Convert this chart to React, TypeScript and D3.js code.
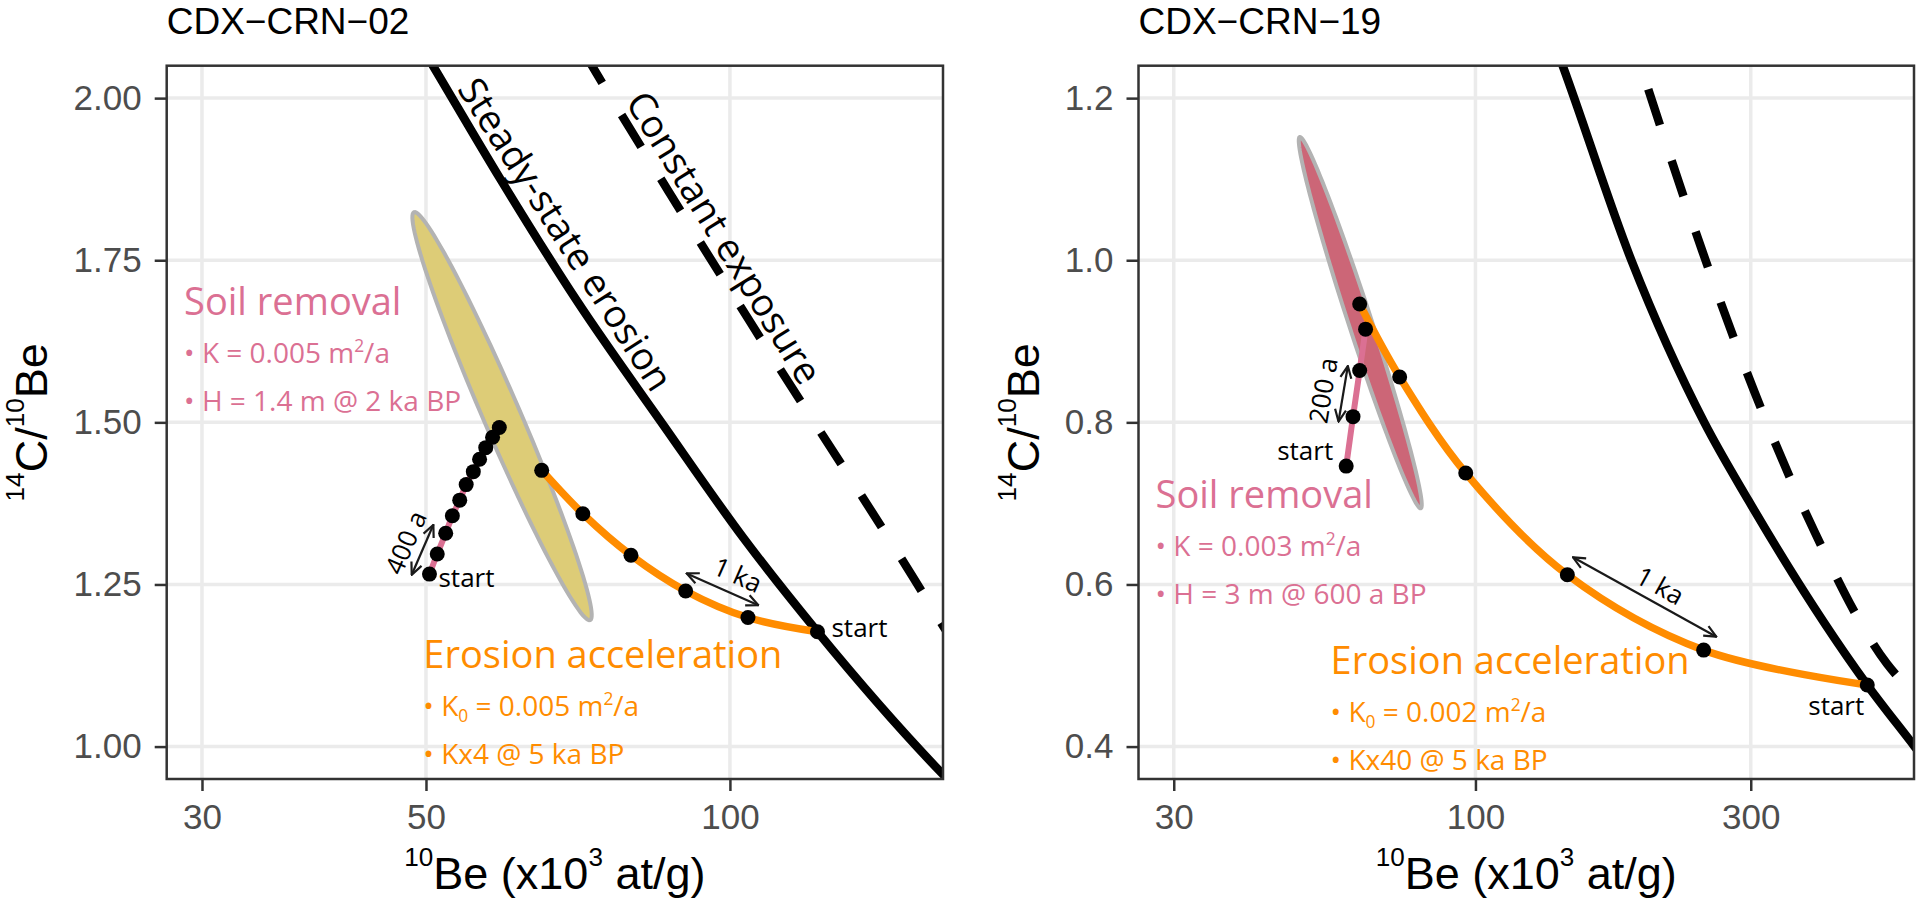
import { useEffect, useRef } from 'react';
import * as d3 from 'd3';

type Pt = [number, number]; // [10Be (x10^3 at/g), 14C/10Be]

// ---------- CDX-CRN-02 ----------
const steady02: Pt[] = [[49.3, 2.084], [50.8, 2.05], [59.2, 1.876], [70.5, 1.688], [85.9, 1.496], [103.1, 1.322], [122.1, 1.177], [162.1, 0.959], [169.0, 0.93]];
const exposure02: Pt[] = [[71.1, 2.08], [73.0, 2.05], [87.2, 1.853], [104.7, 1.655], [152.0, 1.26], [162.6, 1.186], [169.1, 1.144]];
const soil02: Pt[] = [[50.4, 1.266], [51.3, 1.297], [52.3, 1.329], [53.1, 1.356], [54.0, 1.38], [54.8, 1.404], [55.7, 1.424], [56.5, 1.443], [57.3, 1.461], [58.2, 1.477], [59.1, 1.492]];
const erosion02: Pt[] = [[122.1, 1.177], [104.2, 1.199], [90.4, 1.24], [79.8, 1.295], [71.5, 1.359], [65.1, 1.426]];
const sample02 = { top: [48.65, 1.824] as Pt, bottom: [72.7, 1.195] as Pt, widthRatio: 0.083 };
const soilArrow02: Pt[] = [[48.4, 1.265], [50.85, 1.342]];
const erosionArrow02: Pt[] = [[90.6, 1.267], [106.7, 1.218]];

// ---------- CDX-CRN-19 ----------
const steady19: Pt[] = [[137.8, 1.263], [141.8, 1.239], [186.3, 1.0], [249.6, 0.799], [297.1, 0.704], [477.6, 0.476], [576.9, 0.4], [616.6, 0.373]];
const exposure19: Pt[] = [[199.3, 1.211], [247.1, 1.012], [304.7, 0.837], [387.0, 0.665], [516.9, 0.502], [641.8, 0.441]];
const soil19: Pt[] = [[59.7, 0.746], [61.35, 0.807], [63.0, 0.864], [64.5, 0.915]];
const erosion19: Pt[] = [[477.6, 0.476], [248.6, 0.519], [144.3, 0.612], [96.2, 0.7375], [73.9, 0.856], [63.0, 0.946]];
const sample19 = { top: [49.6, 1.152] as Pt, bottom: [80.4, 0.694] as Pt, widthRatio: 0.059 };
const soilArrow19: Pt[] = [[57.9, 0.801], [60.1, 0.8695]];
const erosionArrow19: Pt[] = [[147.6, 0.6335], [261.5, 0.5356]];

// ---------- axes ----------
const beTicks02 = [30, 50, 100];
const ratioTicks02 = [1.0, 1.25, 1.5, 1.75, 2.0];
const beTicks19 = [30, 100, 300];
const ratioTicks19 = [0.4, 0.6, 0.8, 1.0, 1.2];

type Run = { t: string; shift?: 'sup' | 'sub' };
const soilText02: Run[][] = [[{ t: '• K = 0.005 m' }, { t: '2', shift: 'sup' }, { t: '/a' }], [{ t: '• H = 1.4 m @ 2 ka BP' }]];
const erosionText02: Run[][] = [[{ t: '• K' }, { t: '0', shift: 'sub' }, { t: ' = 0.005 m' }, { t: '2', shift: 'sup' }, { t: '/a' }], [{ t: '• Kx4 @ 5 ka BP' }]];
const soilText19: Run[][] = [[{ t: '• K = 0.003 m' }, { t: '2', shift: 'sup' }, { t: '/a' }], [{ t: '• H = 3 m @ 600 a BP' }]];
const erosionText19: Run[][] = [[{ t: '• K' }, { t: '0', shift: 'sub' }, { t: ' = 0.002 m' }, { t: '2', shift: 'sup' }, { t: '/a' }], [{ t: '• Kx40 @ 5 ka BP' }]];

const TOP = 65.7;
const BOTTOM = 779;
const SANS = '"Liberation Sans", Arial, Helvetica, sans-serif';
const HUMAN = '"Open Sans", "Noto Sans", sans-serif';
const PINK = '#DB7093';
const ORANGE = '#FF8C00';

interface PanelSpec {
  key: string;
  title: string;
  left: number;
  right: number;
  beLimits: [number, number];
  ratioLimits: [number, number];
  beTicks: number[];
  ratioTicks: number[];
  ratioFormat: string;
  yTitleX: number;
  steady: Pt[];
  exposure: Pt[];
  exposureOffset: number;
  soil: Pt[];
  erosion: Pt[];
  sample: { top: Pt; bottom: Pt; widthRatio: number };
  sampleFill: string;
  soilHead: Pt;
  soilLines: Run[][];
  erosionHead: Pt;
  erosionLines: Run[][];
  soilStart: { dx: number; dy: number; anchor: string };
  erosionStart: { dx: number; dy: number; anchor: string };
  arrows: { pts: Pt[]; text: string; lift: number; slide: number }[];
  lineLabels: { text: string; curve: Pt[]; at: Pt; from: number; to: number; lift: number }[];
}

const panels: PanelSpec[] = [
  {
    key: 'p02', title: 'CDX\u2212CRN\u221202', left: 166.7, right: 943,
    beLimits: [30, 150], ratioLimits: [1, 2], beTicks: beTicks02, ratioTicks: ratioTicks02, ratioFormat: '.2f', yTitleX: 47,
    steady: steady02, exposure: exposure02, exposureOffset: 70, soil: soil02, erosion: erosion02,
    sample: sample02, sampleFill: '#DDCC77',
    soilHead: [28.8, 1.6655], soilLines: soilText02, erosionHead: [49.7, 1.1212], erosionLines: erosionText02,
    soilStart: { dx: 9, dy: 12.7, anchor: 'start' }, erosionStart: { dx: 14, dy: 5, anchor: 'start' },
    arrows: [
      { pts: soilArrow02, text: '400 a', lift: -9, slide: 0 },
      { pts: erosionArrow02, text: '1 ka', lift: -10, slide: 8 },
    ],
    lineLabels: [
      { text: 'Steady-state erosion', curve: steady02, at: [65.35, 1.768], from: 1, to: 4, lift: -13 },
      { text: 'Constant exposure', curve: exposure02, at: [94.3, 1.7658], from: 1, to: 3, lift: -10 },
    ],
  },
  {
    key: 'p19', title: 'CDX\u2212CRN\u221219', left: 1138.5, right: 1914,
    beLimits: [30, 500], ratioLimits: [0.4, 1.2], beTicks: beTicks19, ratioTicks: ratioTicks19, ratioFormat: '.1f', yTitleX: 1039,
    steady: steady19, exposure: exposure19, exposureOffset: 0, soil: soil19, erosion: erosion19,
    sample: sample19, sampleFill: '#CC6677',
    soilHead: [27.9, 0.694], soilLines: soilText19, erosionHead: [56.1, 0.4895], erosionLines: erosionText19,
    soilStart: { dx: -13, dy: -6, anchor: 'end' }, erosionStart: { dx: -3, dy: 30, anchor: 'end' },
    arrows: [
      { pts: soilArrow19, text: '200 a', lift: -11, slide: 0 },
      { pts: erosionArrow19, text: '1 ka', lift: -8, slide: 8 },
    ],
    lineLabels: [],
  },
];

function addRuns(text: d3.Selection<SVGTextElement, unknown, null, undefined>, runs: Run[], fs: number, raise: number, scale: number) {
  let offset = 0;
  runs.forEach(r => {
    const target = r.shift === 'sup' ? -raise : r.shift === 'sub' ? raise * 0.55 : 0;
    text.append('tspan')
      .attr('dy', target - offset)
      .attr('font-size', r.shift ? fs * scale : fs)
      .text(r.t);
    offset = target;
  });
}

function drawPanel(svg: d3.Selection<SVGSVGElement, unknown, null, undefined>, defs: d3.Selection<SVGDefsElement, unknown, null, undefined>, p: PanelSpec) {
  const lo = Math.log10(p.beLimits[0]);
  const hi = Math.log10(p.beLimits[1]);
  const padX = 0.05 * (hi - lo);
  const x = d3.scaleLog().domain([10 ** (lo - padX), 10 ** (hi + padX)]).range([p.left, p.right]);
  const padY = 0.05 * (p.ratioLimits[1] - p.ratioLimits[0]);
  const y = d3.scaleLinear().domain([p.ratioLimits[0] - padY, p.ratioLimits[1] + padY]).range([BOTTOM, TOP]);

  defs.append('clipPath').attr('id', `clip-${p.key}`)
    .append('rect').attr('x', p.left).attr('y', TOP).attr('width', p.right - p.left).attr('height', BOTTOM - TOP);

  const g = svg.append('g');

  // grid
  g.append('g').selectAll('line').data(p.beTicks).join('line')
    .attr('x1', d => x(d)).attr('x2', d => x(d)).attr('y1', TOP).attr('y2', BOTTOM)
    .attr('stroke', '#EBEBEB').attr('stroke-width', 3.5);
  g.append('g').selectAll('line').data(p.ratioTicks).join('line')
    .attr('x1', p.left).attr('x2', p.right).attr('y1', d => y(d)).attr('y2', d => y(d))
    .attr('stroke', '#EBEBEB').attr('stroke-width', 3.5);

  // axes
  const xAxis = g.append('g').attr('transform', `translate(0,${BOTTOM})`)
    .call(d3.axisBottom(x).tickValues(p.beTicks).tickFormat(d3.format('d') as any).tickSize(12).tickPadding(13).tickSizeOuter(0));
  const yAxis = g.append('g').attr('transform', `translate(${p.left},0)`)
    .call(d3.axisLeft(y).tickValues(p.ratioTicks).tickFormat(d3.format(p.ratioFormat) as any).tickSize(12).tickPadding(13).tickSizeOuter(0));
  [xAxis, yAxis].forEach(a => {
    a.select('.domain').remove();
    a.selectAll('line').attr('stroke', '#333333').attr('stroke-width', 2.5);
    a.selectAll('text').attr('fill', '#4D4D4D').attr('font-size', 35).attr('font-family', SANS);
  });

  const smooth = d3.line<Pt>().x(d => x(d[0])).y(d => y(d[1])).curve(d3.curveMonotoneX);
  const path = d3.line<Pt>().x(d => x(d[0])).y(d => y(d[1])).curve(d3.curveCatmullRom.alpha(0.5));
  const c = g.append('g').attr('clip-path', `url(#clip-${p.key})`);

  // sample ellipse
  const s = p.sample;
  const tx = x(s.top[0]), ty = y(s.top[1]);
  const bx = x(s.bottom[0]), by = y(s.bottom[1]);
  const cx = (tx + bx) / 2, cy = (ty + by) / 2;
  const ax = (tx - bx) / 2, ay = (ty - by) / 2;
  const len = Math.hypot(ax, ay);
  const nx = (-ay / len) * s.widthRatio * len;
  const ny = (ax / len) * s.widthRatio * len;
  const outline: [number, number][] = d3.range(0, 360, 3).map(deg => {
    const t = (deg * Math.PI) / 180;
    return [cx + ax * Math.cos(t) + nx * Math.sin(t), cy + ay * Math.cos(t) + ny * Math.sin(t)];
  });
  c.append('path').attr('d', d3.line()(outline) + 'Z')
    .attr('fill', p.sampleFill).attr('stroke', '#B3B3B3').attr('stroke-width', 4);

  c.append('path').attr('d', smooth(p.steady)).attr('fill', 'none').attr('stroke', '#000').attr('stroke-width', 8.5);
  c.append('path').attr('d', smooth(p.exposure)).attr('fill', 'none').attr('stroke', '#000').attr('stroke-width', 8.5)
    .attr('stroke-dasharray', '37.5 37.5').attr('stroke-dashoffset', p.exposureOffset);
  c.append('path').attr('d', path(p.soil)).attr('fill', 'none').attr('stroke', PINK).attr('stroke-width', 6);
  c.append('path').attr('d', path(p.erosion)).attr('fill', 'none').attr('stroke', ORANGE).attr('stroke-width', 7.5);

  c.append('g').selectAll('circle').data([...p.soil, ...p.erosion]).join('circle')
    .attr('cx', d => x(d[0])).attr('cy', d => y(d[1])).attr('r', 7.5).attr('fill', '#000');

  // border
  g.append('rect').attr('x', p.left).attr('y', TOP).attr('width', p.right - p.left).attr('height', BOTTOM - TOP)
    .attr('fill', 'none').attr('stroke', '#333333').attr('stroke-width', 2.5);

  // arrows + labels
  p.arrows.forEach(a => {
    const x1 = x(a.pts[0][0]), y1 = y(a.pts[0][1]);
    const x2 = x(a.pts[1][0]), y2 = y(a.pts[1][1]);
    g.append('line').attr('x1', x1).attr('y1', y1).attr('x2', x2).attr('y2', y2)
      .attr('stroke', '#1A1A1A').attr('stroke-width', 2.2)
      .attr('marker-start', 'url(#arrowhead)').attr('marker-end', 'url(#arrowhead)');
    const ang = (Math.atan2(y2 - y1, x2 - x1) * 180) / Math.PI;
    g.append('text')
      .attr('transform', `translate(${(x1 + x2) / 2},${(y1 + y2) / 2}) rotate(${ang})`)
      .attr('text-anchor', 'middle').attr('dx', a.slide).attr('dy', a.lift)
      .attr('font-family', HUMAN).attr('font-size', 26).attr('fill', '#000')
      .text(a.text);
  });

  // line labels
  p.lineLabels.forEach(l => {
    const ang = (Math.atan2(y(l.curve[l.to][1]) - y(l.curve[l.from][1]), x(l.curve[l.to][0]) - x(l.curve[l.from][0])) * 180) / Math.PI;
    g.append('text')
      .attr('transform', `translate(${x(l.at[0])},${y(l.at[1])}) rotate(${ang})`)
      .attr('text-anchor', 'middle').attr('dy', l.lift)
      .attr('font-family', HUMAN).attr('font-size', 38).attr('fill', '#000')
      .text(l.text);
  });

  // start labels
  const soilStart = p.soil[0];
  g.append('text').attr('x', x(soilStart[0]) + p.soilStart.dx).attr('y', y(soilStart[1]) + p.soilStart.dy)
    .attr('text-anchor', p.soilStart.anchor).attr('font-family', HUMAN).attr('font-size', 26).text('start');
  const eroStart = p.erosion[0];
  g.append('text').attr('x', x(eroStart[0]) + p.erosionStart.dx).attr('y', y(eroStart[1]) + p.erosionStart.dy)
    .attr('text-anchor', p.erosionStart.anchor).attr('font-family', HUMAN).attr('font-size', 26).text('start');

  // scenario text blocks
  const block = (head: Pt, title: string, lines: Run[][], color: string) => {
    const hx = x(head[0]), hy = y(head[1]);
    g.append('text').attr('x', hx).attr('y', hy).attr('font-family', HUMAN).attr('font-size', 38)
      .attr('fill', color).text(title);
    lines.forEach((runs, i) => {
      const t = g.append('text').attr('x', hx).attr('y', hy + 48 * (i + 1))
        .attr('font-family', HUMAN).attr('fill', color);
      addRuns(t, runs, 28, 11, 0.62);
    });
  };
  block(p.soilHead, 'Soil removal', p.soilLines, PINK);
  block(p.erosionHead, 'Erosion acceleration', p.erosionLines, ORANGE);

  // titles
  svg.append('text').attr('x', p.left).attr('y', 34).attr('font-family', SANS).attr('font-size', 37)
    .attr('fill', '#000').text(p.title);

  const xt = svg.append('text').attr('x', (p.left + p.right) / 2).attr('y', 889).attr('text-anchor', 'middle')
    .attr('font-family', SANS).attr('fill', '#000');
  addRuns(xt, [{ t: '10', shift: 'sup' }, { t: 'Be (x10' }, { t: '3', shift: 'sup' }, { t: ' at/g)' }], 45, 23, 0.58);

  const yt = svg.append('text').attr('transform', `translate(${p.yTitleX},${(TOP + BOTTOM) / 2}) rotate(-90)`)
    .attr('text-anchor', 'middle').attr('font-family', SANS).attr('fill', '#000');
  addRuns(yt, [{ t: '14', shift: 'sup' }, { t: 'C/' }, { t: '10', shift: 'sup' }, { t: 'Be' }], 45, 23, 0.58);
}

export default function App() {
  const ref = useRef<SVGSVGElement | null>(null);

  useEffect(() => {
    if (!ref.current) return;
    const svg = d3.select(ref.current);
    svg.selectAll('*').remove();

    svg.append('rect').attr('width', 1920).attr('height', 901).attr('fill', '#fff');
    const defs = svg.append('defs');
    defs.append('marker')
      .attr('id', 'arrowhead')
      .attr('viewBox', '0 0 14 14')
      .attr('refX', 13).attr('refY', 7)
      .attr('markerWidth', 14).attr('markerHeight', 14)
      .attr('markerUnits', 'userSpaceOnUse')
      .attr('orient', 'auto-start-reverse')
      .append('path').attr('d', 'M1,1.5 L13,7 L1,12.5')
      .attr('fill', 'none').attr('stroke', '#1A1A1A').attr('stroke-width', 2.2);

    panels.forEach(p => drawPanel(svg, defs, p));
  }, []);

  return (
    <svg ref={ref} width={1920} height={901} style={{ position: 'absolute', left: 0, top: 0 }}></svg>
  );
}
